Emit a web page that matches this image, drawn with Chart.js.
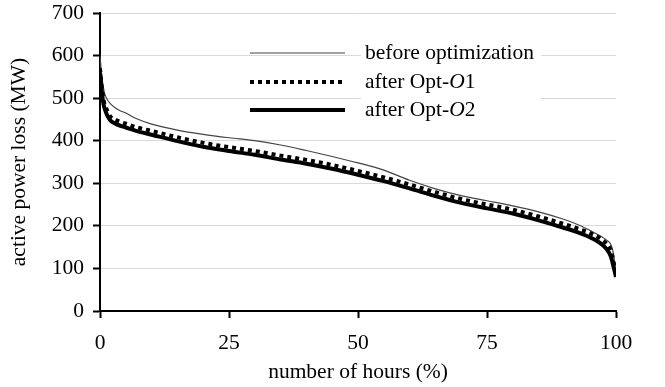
<!DOCTYPE html>
<html>
<head>
<meta charset="utf-8">
<script src="https://cdn.jsdelivr.net/npm/chart.js@4"></script>
<style>
   html, body { margin: 0; padding: 0; background: #fff; }
   #wrap { width: 665px; height: 387px; }
</style>
</head>
<body>
<div id="wrap"><canvas id="lossChart"></canvas></div>
<script>
// Duration curve data (x = % of hours, y = MW)
const hours = [0, 0.3, 0.7, 1, 1.5, 2, 3, 4, 5, 7, 10, 15, 20, 25, 30, 35, 40, 45, 50, 55, 60, 65, 70, 75, 80, 85, 90, 93, 95, 97, 98, 99, 99.5, 100];
const beforeOpt = [600, 558, 522, 507, 495, 487, 477, 470, 465, 452, 439, 425, 415, 407, 400, 390, 377, 363, 348, 331, 307, 287, 271, 259, 247, 233, 215, 201, 189, 176, 168, 156, 135, 85];
const afterO1 = [570, 530, 495, 482, 468, 457, 449, 444, 440, 432, 423, 408, 395, 385, 376, 365, 355, 343, 329, 314, 297, 279, 263, 250, 238, 222, 204, 192, 183, 170, 160, 142, 117, 85];
const afterO2 = [560, 520, 485, 472, 457, 448, 440, 435, 431, 423, 414, 399, 386, 376, 367, 356, 346, 334, 320, 305, 288, 270, 254, 241, 229, 213, 195, 183, 173, 159, 148, 128, 105, 80];
const seriesNames = ['before optimization', 'after Opt-O1', 'after Opt-O2'];
const xTicks = [0, 25, 50, 75, 100];
const yMax = 700;

const serif = "'Liberation Serif', 'Times New Roman', serif";
const fontSize = 21.5;

function toPoints(vals) {
   return vals.map((v, i) => ({ x: hours[i], y: v }));
}

// legend drawn inside the plot, like the original
const innerLegend = {
   id: 'innerLegend',
   afterDatasetsDraw(chart) {
      const ctx = chart.ctx;
      const area = chart.chartArea;
      const x0 = area.left + 150;
      const x1 = area.left + 245;
      const tx = area.left + 265;
      const rows = [area.top + 40, area.top + 69, area.top + 97];
      ctx.save();
      ctx.fillStyle = '#fff';
      ctx.fillRect(tx - 4, area.top + 26, 180, 84);
      chart.data.datasets.forEach((ds, i) => {
         const y = rows[i];
         ctx.beginPath();
         ctx.strokeStyle = ds.borderColor;
         ctx.lineWidth = ds.borderWidth;
         ctx.setLineDash(ds.borderDash || []);
         ctx.lineCap = 'butt';
         ctx.moveTo(x0, y);
         ctx.lineTo(x1, y);
         ctx.stroke();
         ctx.setLineDash([]);

         // text, with the "O" in italics
         ctx.fillStyle = '#000';
         ctx.textBaseline = 'middle';
         ctx.textAlign = 'left';
         const name = seriesNames[i];
         const k = name.indexOf('Opt-O');
         let cx = tx;
         const plain = fontSize + 'px ' + serif;
         if (k < 0) {
            ctx.font = plain;
            ctx.fillText(name, cx, y);
         } else {
            const head = name.slice(0, k + 4);
            const tail = name.slice(k + 5);
            ctx.font = plain;
            ctx.fillText(head, cx, y);
            cx += ctx.measureText(head).width;
            ctx.font = 'italic ' + plain;
            ctx.fillText('O', cx, y);
            cx += ctx.measureText('O').width;
            ctx.font = plain;
            ctx.fillText(tail, cx, y);
         }
      });
      ctx.restore();
   }
};

new Chart(document.getElementById('lossChart'), {
   type: 'line',
   data: {
      datasets: [
         {
            label: seriesNames[0],
            data: toPoints(beforeOpt),
            borderColor: '#444444',
            borderWidth: 1.2,
            pointRadius: 0,
            cubicInterpolationMode: 'monotone',
            order: 3
         },
         {
            label: seriesNames[1],
            data: toPoints(afterO1),
            borderColor: '#000000',
            borderWidth: 4,
            borderDash: [4, 4],
            pointRadius: 0,
            cubicInterpolationMode: 'monotone',
            order: 2
         },
         {
            label: seriesNames[2],
            data: toPoints(afterO2),
            borderColor: '#000000',
            borderWidth: 4,
            pointRadius: 0,
            cubicInterpolationMode: 'monotone',
            order: 1
         }
      ]
   },
   options: {
      responsive: true,
      maintainAspectRatio: false,
      animation: false,
      layout: { padding: { top: 13, right: 49, left: 6, bottom: 0 } },
      plugins: {
         legend: { display: false },
         tooltip: { enabled: false }
      },
      scales: {
         x: {
            type: 'linear',
            min: 0,
            max: 100,
            afterBuildTicks: (scale) => { scale.ticks = xTicks.map(v => ({ value: v })); },
            afterFit: (scale) => {
               scale.height = 76;
               scale.paddingLeft = 0;
               scale.paddingRight = 0;
            },
            border: { color: '#000', width: 2 },
            grid: {
               drawOnChartArea: false,
               drawTicks: true,
               tickLength: 7,
               tickColor: '#000',
               tickWidth: 2
            },
            ticks: {
               color: '#000',
               padding: 12,
               maxRotation: 0,
               font: { family: serif, size: fontSize }
            },
            title: {
               display: true,
               text: 'number of hours (%)',
               color: '#000',
               padding: { top: 0, bottom: 2 },
               font: { family: serif, size: fontSize }
            }
         },
         y: {
            min: 0,
            max: yMax,
            afterFit: (scale) => {
               scale.width = 94;
               scale.paddingTop = 0;
               scale.paddingBottom = 0;
            },
            border: { color: '#000', width: 2 },
            grid: {
               color: '#d9d9d9',
               lineWidth: 1,
               tickLength: 7,
               tickColor: '#000',
               tickWidth: 2
            },
            ticks: {
               stepSize: 100,
               color: '#000',
               padding: 9,
               font: { family: serif, size: fontSize }
            },
            title: {
               display: true,
               text: 'active power loss (MW)',
               color: '#000',
               padding: { top: 0, bottom: 0 },
               font: { family: serif, size: fontSize }
            }
         }
      }
   },
   plugins: [innerLegend]
});
</script>
</body>
</html>
